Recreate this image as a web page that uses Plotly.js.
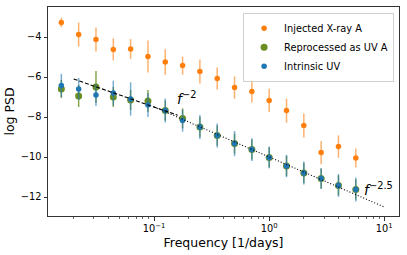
<!DOCTYPE html>
<html>
<head>
<meta charset="utf-8">
<script src="https://cdn.plot.ly/plotly-3.0.1.min.js"></script>
<style>html,body{margin:0;padding:0;background:#fff;}#chart{width:407px;height:255px;}</style>
</head>
<body>
<div id="chart"></div>
<script>
// Frequencies [1/days]
var freqs = [0.015625, 0.0221, 0.03125, 0.0442, 0.0625, 0.0884, 0.125, 0.1768, 0.25,
             0.3536, 0.5, 0.7071, 1, 1.4142, 2, 2.8284, 4, 5.6569];

// Injected X-ray A
var xrayPSD = [-3.27, -3.88, -4.13, -4.62, -4.60, -4.98, -5.25, -5.43, -5.73,
               -6.08, -6.53, -6.73, -7.17, -7.68, -8.43, -9.78, -9.48, -10.05];
var xrayErr = [0.24, 0.60, 0.60, 0.55, 0.50, 0.80, 0.64, 0.45, 0.60,
               0.55, 0.56, 0.55, 0.58, 0.60, 0.60, 0.58, 0.56, 0.48];

// Reprocessed as UV A
var reprocPSD = [-6.60, -6.95, -6.50, -7.00, -7.15, -7.20, -7.68, -8.07, -8.50,
                 -8.92, -9.33, -9.63, -10.02, -10.45, -10.80, -11.08, -11.42, -11.62];
var reprocErr = [0.45, 0.55, 0.80, 0.50, 0.50, 0.55, 0.50, 0.50, 0.50,
                 0.50, 0.50, 0.50, 0.50, 0.50, 0.50, 0.50, 0.50, 0.50];

// Intrinsic UV
var intrPSD = [-6.42, -6.60, -6.90, -6.80, -7.10, -7.40, -7.68, -8.18, -8.50,
               -8.92, -9.33, -9.63, -10.02, -10.45, -10.80, -11.08, -11.42, -11.62];
var intrErr = [0.58, 0.55, 0.55, 0.62, 0.83, 0.60, 0.60, 0.55, 0.60,
               0.60, 0.63, 0.57, 0.54, 0.56, 0.57, 0.52, 0.57, 0.60];

// Reference power-law lines (endpoints)
var slope2Freq = [0.02, 0.16];
var slope2PSD = [-6.10, -7.91];
var slope25Freq = [0.1, 10];
var slope25PSD = [-7.50, -12.50];

var seriesNames = ['Injected X-ray A', 'Reprocessed as UV A', 'Intrinsic UV'];
var xTickVals = [0.1, 1, 10];
var xTickText = ['10<sup>\u22121</sup>', '10<sup>0</sup>', '10<sup>1</sup>'];
var yTickVals = [-12, -10, -8, -6, -4];

var minorVals = [];
[0.01, 0.1, 1].forEach(function (d) {
  for (var m = 2; m <= 9; m++) minorVals.push(m * d);
});

var FONT = 'DejaVu Sans, sans-serif';

var traces = [
  {
    x: freqs, y: xrayPSD, name: seriesNames[0], type: 'scatter', mode: 'markers',
    marker: {color: '#ff7f0e', size: 5.5},
    error_y: {type: 'data', array: xrayErr, visible: true, color: 'rgba(255,127,14,0.6)', thickness: 1.5, width: 0}
  },
  {
    x: freqs, y: reprocPSD, name: seriesNames[1], type: 'scatter', mode: 'markers',
    marker: {color: '#6b8e23', size: 7},
    error_y: {type: 'data', array: reprocErr, visible: true, color: 'rgba(107,142,35,0.8)', thickness: 1.5, width: 0}
  },
  {
    x: freqs, y: intrPSD, name: seriesNames[2], type: 'scatter', mode: 'markers',
    marker: {color: '#1f77b4', size: 5.5},
    error_y: {type: 'data', array: intrErr, visible: true, color: 'rgba(31,119,180,0.6)', thickness: 1.5, width: 0}
  },
  {
    x: slope2Freq, y: slope2PSD, type: 'scatter', mode: 'lines', showlegend: false,
    line: {color: '#000', width: 1.1, dash: '4px,2px'}, hoverinfo: 'skip'
  },
  {
    x: slope25Freq, y: slope25PSD, type: 'scatter', mode: 'lines', showlegend: false,
    line: {color: '#000', width: 1.1, dash: '1px,2px'}, hoverinfo: 'skip'
  }
];

var layout = {
  width: 407, height: 255,
  margin: {l: 48, r: 8, t: 7, b: 39},
  paper_bgcolor: '#fff', plot_bgcolor: '#fff',
  font: {family: FONT, size: 9.8, color: '#000'},
  showlegend: true,
  legend: {
    x: 0.986, xanchor: 'right', y: 0.973, yanchor: 'top',
    bgcolor: 'rgba(255,255,255,0.85)', bordercolor: '#d0d0d0', borderwidth: 1,
    font: {family: FONT, size: 9.8, color: '#000'},
    itemwidth: 30, tracegroupgap: 0
  },
  xaxis: {
    type: 'log', range: [-1.922, 1.128],
    tickmode: 'array', tickvals: xTickVals, ticktext: xTickText,
    ticks: 'outside', ticklen: 3.5, tickwidth: 0.8, tickcolor: '#000',
    minor: {tickmode: 'array', tickvals: minorVals, ticks: 'outside', ticklen: 2, tickwidth: 0.6, tickcolor: '#000', showgrid: false},
    showgrid: false, zeroline: false,
    showline: true, linecolor: '#333', linewidth: 1, mirror: true,
    tickfont: {family: FONT, size: 9.8, color: '#000'},
    title: {text: 'Frequency [1/days]', font: {family: FONT, size: 12.5, color: '#000'}, standoff: 4}
  },
  yaxis: {
    range: [-12.95, -2.5],
    tickmode: 'array', tickvals: yTickVals,
    ticks: 'outside', ticklen: 3.5, tickwidth: 0.8, tickcolor: '#000',
    showgrid: false, zeroline: false,
    showline: true, linecolor: '#333', linewidth: 1, mirror: true,
    tickfont: {family: FONT, size: 9.8, color: '#000'},
    title: {text: 'log PSD', font: {family: FONT, size: 12.5, color: '#000'}, standoff: 3}
  },
  annotations: [
    {x: Math.log10(0.152), y: -7.05, xref: 'x', yref: 'y', xanchor: 'left', yanchor: 'middle',
     text: '<i>f</i><sup>\u22122</sup>', showarrow: false,
     font: {family: FONT, size: 14, color: '#000'}},
    {x: Math.log10(6.45), y: -11.6, xref: 'x', yref: 'y', xanchor: 'left', yanchor: 'middle',
     text: '<i>f</i><sup>\u22122.5</sup>', showarrow: false,
     font: {family: FONT, size: 14, color: '#000'}}
  ]
};

Plotly.newPlot('chart', traces, layout, {displayModeBar: false, staticPlot: true});
</script>
</body>
</html>
